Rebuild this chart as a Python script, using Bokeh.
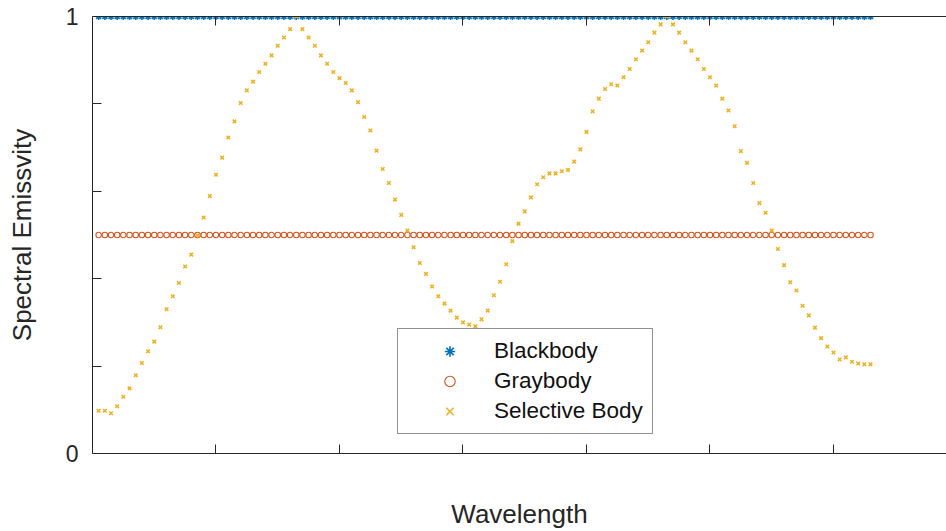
from bokeh.plotting import figure
from bokeh.models import Range1d, FixedTicker, LinearAxis, Legend, LegendItem
from bokeh.embed import file_html
from bokeh.resources import INLINE

# ---- data ----
wavelength = list(range(1, 127))
blackbody = [1.0] * 126
graybody = [0.5] * 126
selective = [
    0.098, 0.098, 0.092, 0.108, 0.130, 0.149, 0.179, 0.207, 0.234, 0.256,
    0.289, 0.330, 0.360, 0.390, 0.428, 0.455, 0.499, 0.540, 0.589, 0.638,
    0.677, 0.723, 0.760, 0.802, 0.831, 0.851, 0.873, 0.892, 0.911, 0.933,
    0.952, 0.971, 1.000, 0.971, 0.952, 0.933, 0.911, 0.892, 0.873, 0.859,
    0.848, 0.831, 0.804, 0.770, 0.739, 0.693, 0.651, 0.619, 0.581, 0.546,
    0.510, 0.472, 0.436, 0.411, 0.382, 0.360, 0.343, 0.327, 0.311, 0.300,
    0.295, 0.291, 0.307, 0.327, 0.362, 0.393, 0.433, 0.486, 0.526, 0.554,
    0.586, 0.616, 0.632, 0.641, 0.641, 0.646, 0.649, 0.668, 0.696, 0.736,
    0.783, 0.812, 0.834, 0.845, 0.842, 0.861, 0.880, 0.902, 0.922, 0.941,
    0.963, 0.982, 1.000, 0.982, 0.963, 0.941, 0.922, 0.902, 0.880, 0.861,
    0.842, 0.812, 0.785, 0.749, 0.692, 0.665, 0.619, 0.573, 0.551, 0.510,
    0.468, 0.431, 0.392, 0.373, 0.338, 0.316, 0.288, 0.264, 0.245, 0.231,
    0.215, 0.220, 0.210, 0.206, 0.204, 0.204,
]
series_names = ["Blackbody", "Graybody", "Selective Body"]
x_ticks = [20, 40, 60, 80, 100, 120, 140]       # unlabeled ticks
y_labeled_ticks = [0, 1]
y_unlabeled_ticks = [0.2, 0.4, 0.6, 0.8]

FONT = "Liberation Sans"
AX = "#262626"

p = figure(width=946, height=531, output_backend="svg", toolbar_location=None,
           x_range=Range1d(0, 138.3), y_range=Range1d(0, 1),
           min_border_left=92, min_border_right=0, min_border_top=16,
           min_border_bottom=78, background_fill_color="white",
           border_fill_color="white")
p.outline_line_color = None
p.grid.visible = False

xa = p.xaxis[0]
xa.ticker = FixedTicker(ticks=[], minor_ticks=x_ticks)
xa.major_label_standoff = 0
xa.major_tick_in = 9
xa.major_tick_out = 0
xa.minor_tick_in = 9
xa.minor_tick_out = 0
xa.axis_line_color = AX
xa.major_tick_line_color = AX
xa.minor_tick_line_color = AX
xa.axis_label = "Wavelength"
xa.axis_label_text_font = FONT
xa.axis_label_text_font_size = "26px"
xa.axis_label_text_font_style = "normal"
xa.axis_label_text_color = AX
xa.axis_label_standoff = 45

ya = p.yaxis[0]
ya.ticker = FixedTicker(ticks=y_labeled_ticks, minor_ticks=y_unlabeled_ticks)
ya.major_label_text_font = FONT
ya.major_label_text_font_size = "23px"
ya.major_label_text_color = AX
ya.major_label_standoff = 14
ya.major_tick_in = 9
ya.major_tick_out = 0
ya.minor_tick_in = 9
ya.minor_tick_out = 0
ya.axis_line_color = AX
ya.major_tick_line_color = AX
ya.minor_tick_line_color = AX
ya.axis_label = "Spectral Emissvity"
ya.axis_label_text_font = FONT
ya.axis_label_text_font_size = "26px"
ya.axis_label_text_font_style = "normal"
ya.axis_label_text_color = AX
ya.axis_label_standoff = 26

top = LinearAxis(ticker=FixedTicker(ticks=[], minor_ticks=x_ticks),
                 major_label_standoff=0, major_tick_in=9, major_tick_out=0,
                 minor_tick_in=9, minor_tick_out=0, axis_line_color=AX,
                 major_tick_line_color=AX, minor_tick_line_color=AX)
p.add_layout(top, "above")

r1 = p.scatter(wavelength, blackbody, marker="asterisk", size=7,
               line_color="#0072BD", line_width=1.6)
r2 = p.scatter(wavelength, graybody, marker="circle", size=5.5, fill_color=None,
               line_color="#D95319", line_width=1.1)
r3 = p.scatter(wavelength, selective, marker="x", size=5,
               line_color="#EDB120", line_width=1.5)

legend = Legend(items=[LegendItem(label=series_names[0], renderers=[r1]),
                       LegendItem(label=series_names[1], renderers=[r2]),
                       LegendItem(label=series_names[2], renderers=[r3])],
                location=(305, 19), border_line_color=AX, border_line_width=1,
                padding=9, spacing=4, glyph_width=85, glyph_height=26,
                label_height=26, label_standoff=2, label_text_font=FONT,
                label_text_font_size="22.5px", label_text_color="#111111",
                margin=0, background_fill_color="white", background_fill_alpha=1)
p.add_layout(legend)

open("out.html", "w").write(file_html(p, INLINE))
